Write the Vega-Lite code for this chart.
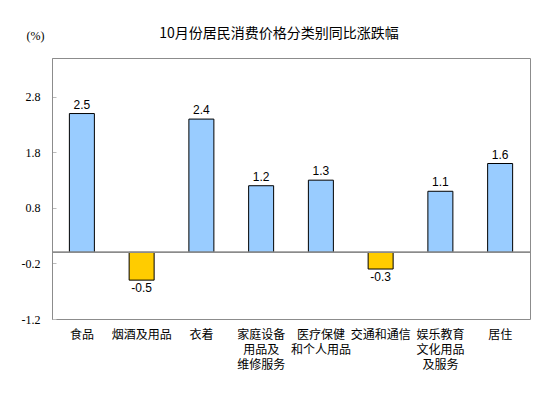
{
  "$schema": "https://vega.github.io/schema/vega-lite/v6.json",
  "autosize": {"type": "none"},
  "width": 478,
  "height": 261,
  "padding": {"left": 52, "top": 58, "right": 23, "bottom": 79},
  "background": "white",
  "title": {
    "text": "10月份居民消费价格分类别同比涨跌幅",
    "font": "Noto Sans CJK SC",
    "fontSize": 14,
    "fontWeight": "normal",
    "color": "#000000",
    "anchor": "middle",
    "dx": -12,
    "offset": -12
  },
  "config": {
    "view": {"stroke": "#8c8c8c", "strokeWidth": 1},
    "locale": {"number": {"decimal": ".", "thousands": ",", "grouping": [3], "currency": ["$", ""], "minus": "-"}}
  },
  "data": {
    "values": [
      {"category": "食品", "value": 2.5},
      {"category": "烟酒及用品", "value": -0.5},
      {"category": "衣着", "value": 2.4},
      {"category": "家庭设备|用品及|维修服务", "value": 1.2},
      {"category": "医疗保健|和个人用品", "value": 1.3},
      {"category": "交通和通信", "value": -0.3},
      {"category": "娱乐教育|文化用品|及服务", "value": 1.1},
      {"category": "居住", "value": 1.6}
    ]
  },
  "encoding": {
    "x": {
      "field": "category",
      "type": "nominal",
      "sort": null,
      "scale": {"paddingInner": 0, "paddingOuter": 0},
      "axis": {
        "title": null,
        "labelAngle": 0,
        "labelExpr": "split(datum.label, '|')",
        "labelFont": "Noto Sans CJK SC",
        "labelFontSize": 12,
        "labelColor": "#000000",
        "labelLineHeight": 15,
        "labelPadding": 10,
        "ticks": false,
        "domain": false,
        "labelBaseline": "top"
      }
    },
    "y": {
      "field": "value",
      "type": "quantitative",
      "scale": {"domain": [-1.2, 3.5], "nice": false, "zero": false},
      "axis": {
        "title": "(%)",
        "titleAngle": 0,
        "titleFont": "Liberation Serif",
        "titleFontSize": 12,
        "titleFontWeight": "normal",
        "titleColor": "#000000",
        "titleX": -17,
        "titleY": -23,
        "titleAlign": "center",
        "titleBaseline": "middle",
        "values": [-1.2, -0.2, 0.8, 1.8, 2.8],
        "format": ".1f",
        "grid": false,
        "domainColor": "#8c8c8c",
        "tickColor": "#bbbbbb",
        "tickSize": -4,
        "labelPadding": 16,
        "labelFont": "Liberation Serif",
        "labelFontSize": 12,
        "labelColor": "#000000"
      }
    }
  },
  "layer": [
    {
      "mark": {"type": "bar", "size": 25, "stroke": "#000000", "strokeWidth": 1},
      "encoding": {
        "color": {
          "condition": {"test": "datum.value < 0", "value": "#FFCC00"},
          "value": "#99CCFF"
        }
      }
    },
    {
      "mark": {"type": "rule", "color": "#8c8c8c", "strokeWidth": 1},
      "encoding": {"y": {"datum": 0}, "x": null}
    },
    {
      "transform": [{"filter": "datum.value >= 0"}],
      "mark": {"type": "text", "baseline": "bottom", "dy": -2, "font": "Liberation Sans", "fontSize": 12, "color": "#000000"},
      "encoding": {"text": {"field": "value", "type": "quantitative", "format": ".1f"}}
    },
    {
      "transform": [{"filter": "datum.value < 0"}],
      "mark": {"type": "text", "baseline": "top", "dy": 3, "font": "Liberation Sans", "fontSize": 12, "color": "#000000"},
      "encoding": {"text": {"field": "value", "type": "quantitative", "format": ".1f"}}
    }
  ]
}
